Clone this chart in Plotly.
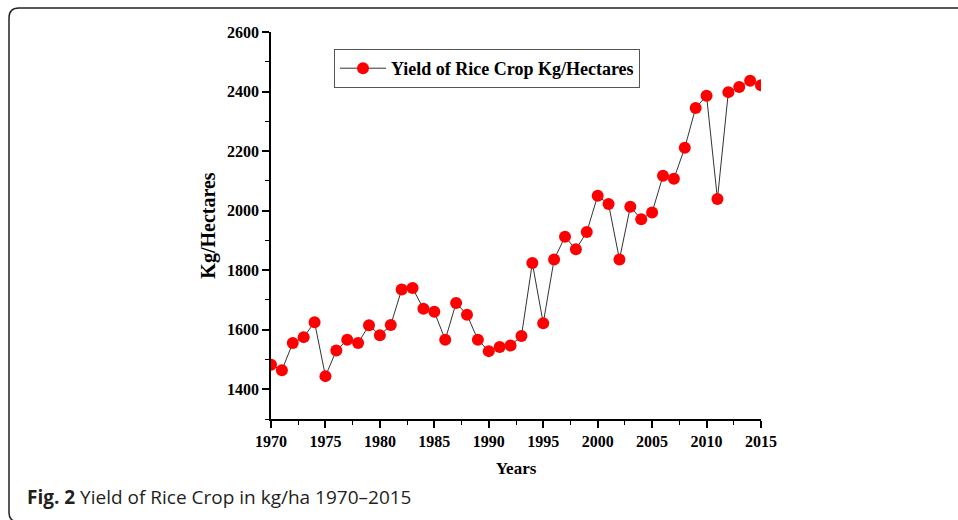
import plotly.graph_objects as go

years = list(range(1970, 2016))
yield_kg_ha = [1482, 1464, 1555, 1575, 1625, 1444, 1530, 1566, 1555, 1615,
               1581, 1616, 1735, 1740, 1670, 1660, 1566, 1690, 1650, 1566,
               1528, 1542, 1547, 1579, 1824, 1622, 1836, 1912, 1870, 1928,
               2050, 2022, 1836, 2013, 1971, 1994, 2117, 2107, 2211, 2345,
               2386, 2039, 2398, 2415, 2436, 2421]
series_name = "Yield of Rice Crop Kg/Hectares"
x_title = "Years"
y_title = "Kg/Hectares"
caption_bold = "Fig. 2"
caption_rest = " Yield of Rice Crop in kg/ha 1970–2015"

W, H = 958, 520
L, R, T, B = 271, 197, 32, 101
pw, ph = W - L - R, H - T - B

def px(x):
    return (x - L) / pw

def py(y):
    return (H - B - y) / ph

serif = "Liberation Serif, Times New Roman, serif"

fig = go.Figure()
fig.add_trace(go.Scatter(
    x=years, y=yield_kg_ha, mode="lines+markers", name=series_name,
    line=dict(color="#333333", width=1),
    marker=dict(color="#ff0000", size=12, line=dict(width=0)),
    cliponaxis=True,
))

axis_common = dict(
    showline=True, linecolor="black", linewidth=1.5, mirror=False,
    showgrid=False, zeroline=False, ticks="outside", ticklen=7, tickwidth=1.5,
    tickcolor="black",
    tickfont=dict(family=serif, size=16, color="black", weight="bold"),
)

fig.update_xaxes(
    range=[1970, 2015], dtick=5, tick0=1970,
    minor=dict(dtick=2.5, ticks="outside", ticklen=4, tickwidth=1.2, tickcolor="black"),
    title=dict(text=x_title, font=dict(family=serif, size=17, color="black", weight="bold"), standoff=13),
    **axis_common,
)
fig.update_yaxes(
    range=[1300, 2600], dtick=200, tick0=1400,
    minor=dict(dtick=100, ticks="outside", ticklen=4, tickwidth=1.2, tickcolor="black"),
    title=dict(text=y_title, font=dict(family=serif, size=20, color="black", weight="bold"), standoff=6),
    **axis_common,
)

# rounded figure frame
xl, xr = px(9), px(975)
yt, yb = py(8), py(522)
dx, dy = 10 / pw, 10 / ph
path = (f"M {xr},{yt} L {xl+dx},{yt} Q {xl},{yt} {xl},{yt-dy} "
        f"L {xl},{yb+dy} Q {xl},{yb} {xl+dx},{yb} L {xr},{yb}")
fig.add_shape(type="path", path=path, xref="paper", yref="paper",
              line=dict(color="#222222", width=1.5))

fig.add_annotation(
    x=px(25), y=py(497), xref="paper", yref="paper", xanchor="left", yanchor="middle",
    text=f"<b>{caption_bold}</b>{caption_rest}", showarrow=False,
    font=dict(family="Open Sans, sans-serif", size=19, color="#231f20"),
)

fig.update_layout(
    width=W, height=H,
    margin=dict(l=L, r=R, t=T, b=B, autoexpand=False),
    paper_bgcolor="white", plot_bgcolor="white",
    showlegend=True,
    legend=dict(
        x=px(334), y=py(49), xanchor="left", yanchor="top",
        bordercolor="#555555", borderwidth=1, bgcolor="white",
        font=dict(family=serif, size=18, color="black", weight="bold"),
        itemwidth=46, tracegroupgap=0,
    ),
)

fig.write_html(
    "out.html",
    config={"displayModeBar": False},
    post_script="document.body.style.margin='0px';document.body.style.overflow='hidden';",
)
